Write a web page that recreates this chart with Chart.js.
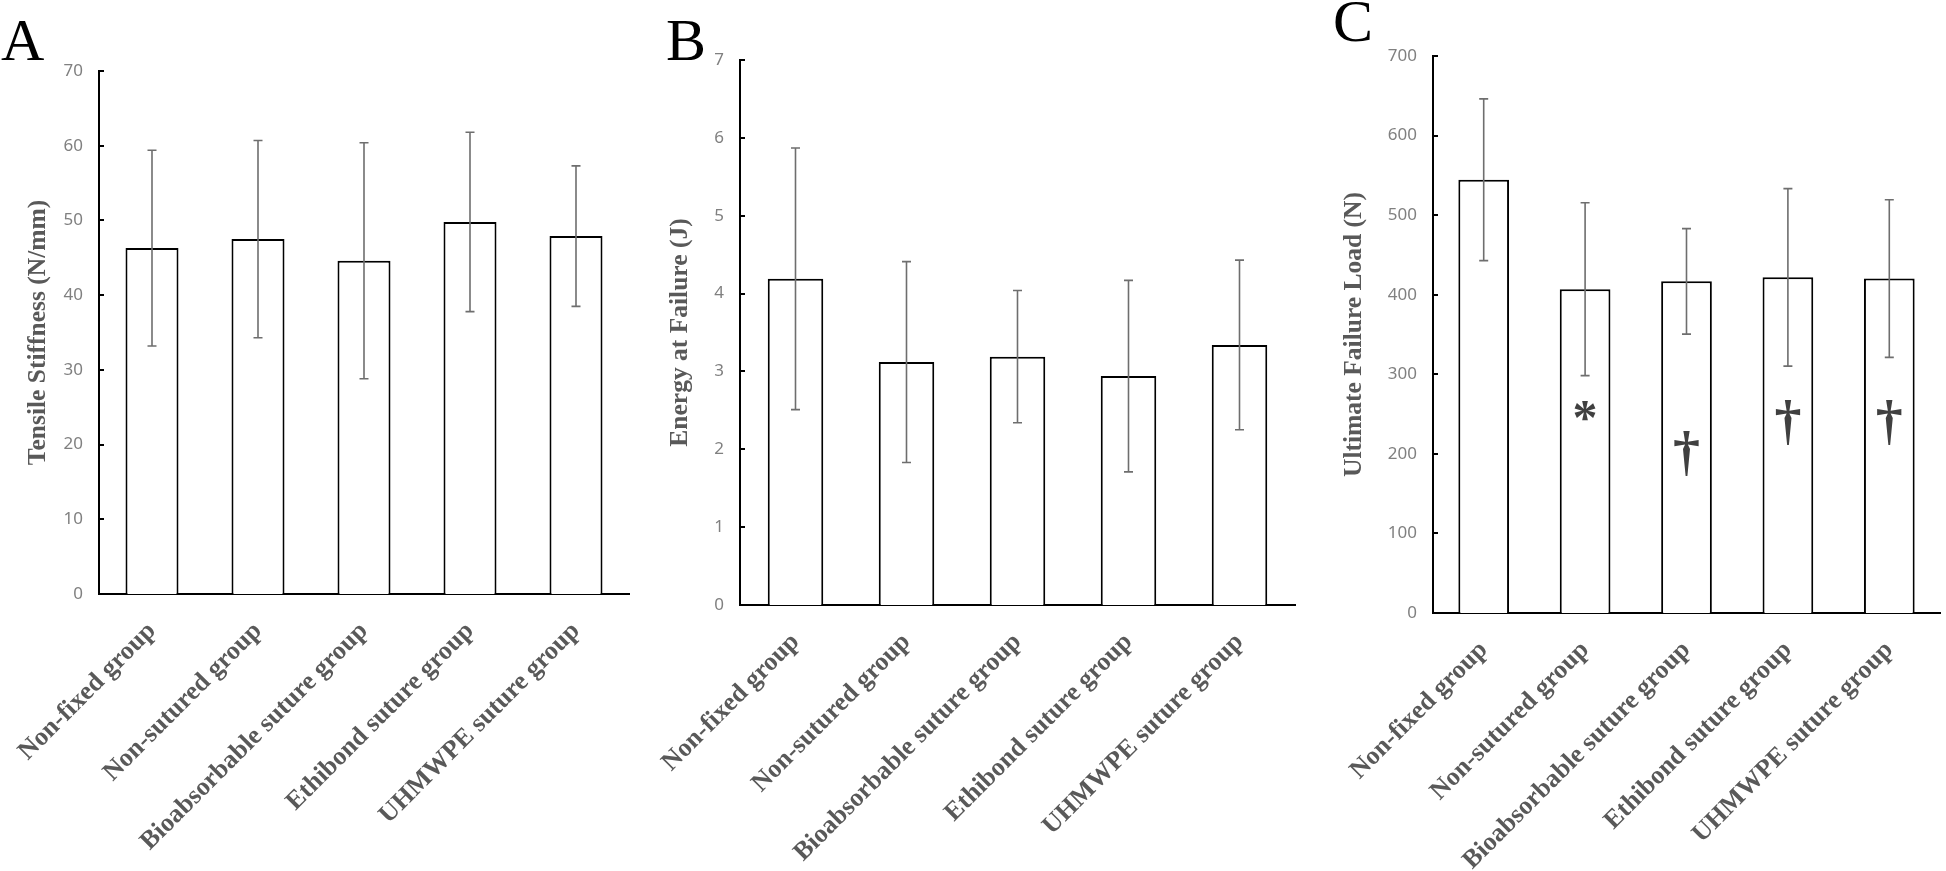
<!DOCTYPE html>
<html>
<head>
<meta charset="utf-8">
<script src="https://cdn.jsdelivr.net/npm/chart.js@4.4.1/dist/chart.umd.min.js"></script>
<style>
  body { margin: 0; background: #fff; width: 1946px; height: 871px; position: relative; overflow: hidden; }
  .panel { position: absolute; top: 0; height: 871px; }
  .letter { position: absolute; font-family: "Liberation Serif", serif; font-size: 60px; line-height: 1; color: #000; }
</style>
</head>
<body>
<div class="letter" style="left:1px;top:10px">A</div>
<div class="letter" style="left:666px;top:10px">B</div>
<div class="letter" style="left:1333px;top:-9px">C</div>

<div class="panel" style="left:0px;width:640px"><canvas id="chartA"></canvas></div>
<div class="panel" style="left:650px;width:655px"><canvas id="chartB"></canvas></div>
<div class="panel" style="left:1310px;width:636px"><canvas id="chartC"></canvas></div>

<script>
"use strict";

// grupper (x-axeln)
const groups = ['Non-fixed group', 'Non-sutured group', 'Bioabsorbable suture group', 'Ethibond suture group', 'UHMWPE suture group'];

// A - Tensile stiffness (N/mm)
const stiffnessMean = [46.3, 47.5, 44.6, 49.8, 47.9];
const stiffnessSD = [13.1, 13.2, 15.8, 12.0, 9.4];

// B - Energy at failure (J)
const energyMean = [4.19, 3.12, 3.19, 2.94, 3.34];
const energySD = [1.68, 1.29, 0.85, 1.23, 1.09];

// C - Ultimate failure load (N)
const loadMean = [544.5, 406.9, 416.8, 421.8, 420.3];
const loadSD = [101.6, 108.6, 66.3, 111.5, 99.1];
const loadMarks = ['', '*', '\u2020', '\u2020', '\u2020'];

const serif = '"Liberation Serif", "Times New Roman", serif';

// felstaplar
const errorBars = {
    id: 'errorBars',
    afterDatasetsDraw(chart, args, opts) {
        const ctx = chart.ctx;
        const y = chart.scales.y;
        const values = chart.data.datasets[0].data;
        ctx.save();
        ctx.strokeStyle = '#6e6e6e';
        ctx.lineWidth = 1.6;
        chart.getDatasetMeta(0).data.forEach((bar, i) => {
            const top = y.getPixelForValue(values[i] + opts.sd[i]);
            const bot = y.getPixelForValue(values[i] - opts.sd[i]);
            ctx.beginPath();
            ctx.moveTo(bar.x, top);
            ctx.lineTo(bar.x, bot);
            ctx.moveTo(bar.x - 4.5, top);
            ctx.lineTo(bar.x + 4.5, top);
            ctx.moveTo(bar.x - 4.5, bot);
            ctx.lineTo(bar.x + 4.5, bot);
            ctx.stroke();
        });
        ctx.restore();
    }
};

// små tickmarkeringar innanför y-axeln
const innerTicks = {
    id: 'innerTicks',
    afterDraw(chart) {
        const ctx = chart.ctx;
        const y = chart.scales.y;
        const x0 = chart.chartArea.left;
        ctx.save();
        ctx.strokeStyle = '#000';
        ctx.lineWidth = 2;
        y.ticks.forEach((t, i) => {
            const py = Math.round(y.getPixelForTick(i));
            ctx.beginPath();
            ctx.moveTo(x0, py);
            ctx.lineTo(x0 + 5, py);
            ctx.stroke();
        });
        ctx.restore();
    }
};

// signifikanssymboler i diagram C
const sigMarks = {
    id: 'sigMarks',
    afterDatasetsDraw(chart, args, opts) {
        if (!opts.marks) return;
        const ctx = chart.ctx;
        const y = chart.scales.y;
        ctx.save();
        ctx.fillStyle = '#404040';
        ctx.textAlign = 'center';
        ctx.textBaseline = 'alphabetic';
        chart.getDatasetMeta(0).data.forEach((bar, i) => {
            const sym = opts.marks[i];
            if (!sym) return;
            ctx.font = 'bold ' + opts.sizes[sym] + 'px ' + serif;
            const m = ctx.measureText(sym);
            const cy = y.getPixelForValue(opts.levels[i]);
            const base = cy + (m.actualBoundingBoxAscent - m.actualBoundingBoxDescent) / 2;
            ctx.fillText(sym, bar.x, base);
        });
        ctx.restore();
    }
};

function makeChart(id, cfg) {
    return new Chart(document.getElementById(id), {
        type: 'bar',
        data: {
            labels: groups,
            datasets: [{
                data: cfg.mean,
                backgroundColor: '#ffffff',
                borderColor: '#000000',
                borderWidth: 2,
                barPercentage: 0.5,
                categoryPercentage: 1.0
            }]
        },
        options: {
            responsive: true,
            maintainAspectRatio: false,
            animation: false,
            layout: { padding: { top: cfg.top, right: cfg.right, left: 0, bottom: 0 } },
            plugins: {
                legend: { display: false },
                tooltip: { enabled: false },
                errorBars: { sd: cfg.sd },
                sigMarks: cfg.marks || {}
            },
            scales: {
                x: {
                    grid: { display: false, drawTicks: false },
                    border: { display: true, color: '#000', width: 2 },
                    ticks: {
                        autoSkip: false,
                        minRotation: 45,
                        maxRotation: 45,
                        padding: 22,
                        color: '#595959',
                        font: { family: serif, size: 26, weight: 'bold' }
                    },
                    afterFit(s) {
                        s.height = cfg.xHeight;
                        s.paddingLeft = 0;
                        s.paddingRight = 0;
                    }
                },
                y: {
                    min: 0,
                    max: cfg.max,
                    grid: { display: false, drawTicks: false },
                    border: { display: true, color: '#000', width: 2 },
                    ticks: {
                        stepSize: cfg.step,
                        padding: 16,
                        color: '#808080',
                        font: { family: '"Noto Sans", sans-serif', size: 17 }
                    },
                    title: {
                        display: true,
                        text: cfg.title,
                        color: '#595959',
                        padding: { top: cfg.titlePad, bottom: 0 },
                        font: { family: serif, size: 25.5, weight: 'bold' }
                    },
                    afterFit(s) {
                        s.width = cfg.yWidth;
                    }
                }
            }
        },
        plugins: [errorBars, innerTicks, sigMarks]
    });
}

makeChart('chartA', {
    mean: stiffnessMean, sd: stiffnessSD, max: 70, step: 10,
    title: 'Tensile Stiffness (N/mm)',
    top: 71, right: 11, yWidth: 99, xHeight: 277, titlePad: 23
});

makeChart('chartB', {
    mean: energyMean, sd: energySD, max: 7, step: 1,
    title: 'Energy at Failure (J)',
    top: 60, right: 10, yWidth: 90, xHeight: 266, titlePad: 15
});

makeChart('chartC', {
    mean: loadMean, sd: loadSD, max: 700, step: 100,
    title: 'Ultimate Failure Load (N)',
    top: 56, right: 6, yWidth: 123, xHeight: 258, titlePad: 29,
    marks: {
        marks: loadMarks,
        levels: [0, 254, 200, 240, 240],
        sizes: { '*': 50, '\u2020': 54 }
    }
});
</script>
</body>
</html>
